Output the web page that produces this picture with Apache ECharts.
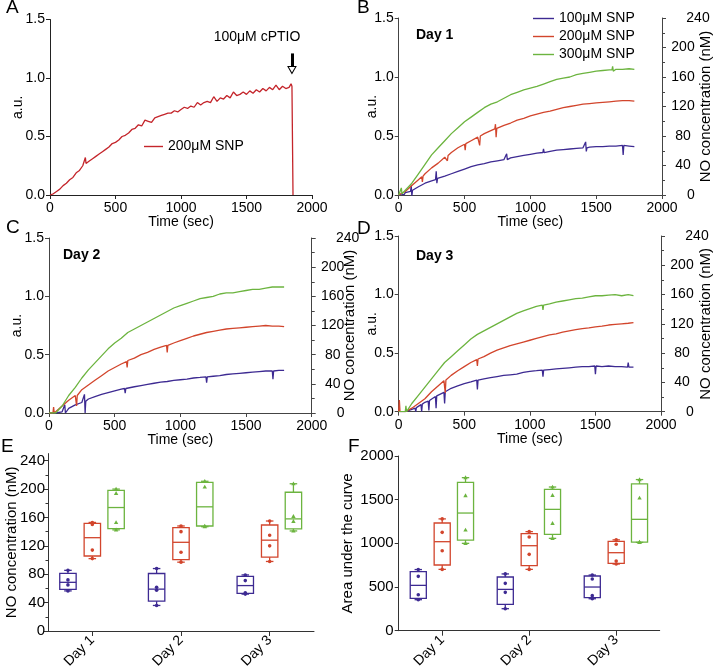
<!DOCTYPE html>
<html><head><meta charset="utf-8">
<script src="https://cdn.jsdelivr.net/npm/echarts@6/dist/echarts.min.js"></script>
<style>html,body{margin:0;padding:0;background:#fff}#c{width:714px;height:672px}</style>
</head><body><div id="c"></div>
<script>
// ---------------- data ----------------
const seriesNames = ['100μM SNP', '200μM SNP', '300μM SNP'];
const aLegendLabel = '200μM SNP';
const cptioLabel = '100μM cPTIO';
const cptioTime = 1847;
const dayLabels = ['Day 1', 'Day 2', 'Day 3'];
const eTicks = [0, 40, 80, 120, 160, 200, 240];
const eMinorTicks = [20, 60, 100, 140, 180, 220];

// Panel A (200 µM SNP, then cPTIO)
const aData = [[0,0],[25,0.01],[50,0.03],[75,0.05],[100,0.08],[125,0.10],[150,0.13],[175,0.15],[200,0.19],[225,0.21],[250,0.25],[265,0.26],[270,0.32],[275,0.27],[300,0.29],[325,0.31],[350,0.33],[375,0.35],[400,0.37],[425,0.39],[450,0.41],[475,0.44],[500,0.45],[525,0.47],[550,0.50],[575,0.51],[600,0.53],[625,0.56],[650,0.57],[675,0.60],[700,0.59],[725,0.64],[750,0.63],[775,0.62],[800,0.66],[825,0.67],[850,0.68],[875,0.69],[900,0.70],[925,0.70],[950,0.72],[975,0.71],[1000,0.73],[1025,0.75],[1050,0.74],[1075,0.76],[1100,0.75],[1125,0.79],[1150,0.77],[1175,0.79],[1200,0.80],[1225,0.79],[1250,0.84],[1275,0.80],[1300,0.83],[1325,0.82],[1350,0.85],[1375,0.83],[1400,0.88],[1425,0.85],[1450,0.86],[1475,0.88],[1500,0.86],[1525,0.89],[1550,0.87],[1575,0.90],[1600,0.88],[1625,0.91],[1650,0.89],[1675,0.92],[1700,0.90],[1725,0.94],[1750,0.90],[1775,0.93],[1800,0.91],[1825,0.92],[1840,0.95],[1847,0.93],[1855,0]];

// Panel B (Day 1)
const bBlue = [[0,0],[20,0.01],[40,0.0],[50,0.02],[90,0.03],[95,0.08],[100,-0.01],[105,0.04],[150,0.07],[200,0.10],[250,0.12],[280,0.13],[285,0.20],[290,0.10],[295,0.14],[300,0.14],[350,0.16],[400,0.18],[450,0.20],[500,0.22],[550,0.24],[600,0.255],[650,0.265],[700,0.28],[750,0.29],[800,0.30],[815,0.30],[820,0.35],[825,0.30],[850,0.315],[900,0.325],[950,0.335],[1000,0.345],[1050,0.355],[1095,0.36],[1100,0.39],[1105,0.36],[1150,0.37],[1200,0.38],[1250,0.385],[1300,0.39],[1350,0.395],[1400,0.40],[1415,0.40],[1420,0.45],[1425,0.37],[1430,0.40],[1450,0.405],[1500,0.41],[1550,0.41],[1600,0.415],[1650,0.415],[1700,0.42],[1705,0.34],[1710,0.42],[1750,0.415],[1790,0.41]];
const bRed = [[0,0],[50,0.03],[100,0.08],[150,0.13],[175,0.155],[180,0.11],[185,0.16],[200,0.18],[250,0.23],[300,0.27],[350,0.32],[365,0.33],[370,0.29],[375,0.335],[400,0.36],[450,0.40],[500,0.43],[505,0.38],[510,0.435],[550,0.46],[600,0.49],[610,0.49],[615,0.42],[620,0.50],[650,0.52],[700,0.545],[730,0.56],[735,0.60],[740,0.49],[745,0.565],[750,0.565],[800,0.59],[850,0.61],[900,0.635],[950,0.65],[1000,0.67],[1050,0.685],[1100,0.70],[1150,0.71],[1200,0.725],[1250,0.74],[1300,0.75],[1350,0.76],[1400,0.77],[1450,0.775],[1500,0.78],[1550,0.785],[1600,0.79],[1650,0.795],[1700,0.80],[1750,0.80],[1790,0.795]];
const bGreen = [[0,0],[15,0.0],[20,0.06],[25,0.01],[50,0.04],[100,0.10],[150,0.18],[200,0.26],[250,0.34],[300,0.40],[350,0.46],[400,0.52],[450,0.57],[500,0.62],[550,0.66],[600,0.70],[650,0.74],[700,0.77],[750,0.79],[800,0.82],[850,0.85],[900,0.87],[950,0.89],[1000,0.905],[1050,0.92],[1100,0.94],[1150,0.96],[1200,0.98],[1250,0.99],[1300,1.00],[1350,1.02],[1400,1.03],[1450,1.04],[1500,1.05],[1550,1.055],[1600,1.06],[1620,1.06],[1625,1.09],[1630,1.05],[1650,1.065],[1700,1.065],[1750,1.07],[1790,1.065]];

// Panel C (Day 2)
const cBlue = [[0,0],[50,0.0],[100,0.01],[115,0.02],[120,0.07],[125,0.0],[150,0.04],[200,0.07],[250,0.09],[265,0.10],[270,0.16],[275,0.0],[280,0.10],[300,0.12],[350,0.14],[400,0.16],[450,0.175],[500,0.19],[550,0.205],[575,0.21],[580,0.17],[585,0.21],[600,0.215],[650,0.225],[700,0.235],[750,0.245],[800,0.255],[850,0.265],[900,0.27],[950,0.28],[1000,0.285],[1050,0.29],[1100,0.30],[1150,0.305],[1195,0.31],[1200,0.26],[1205,0.31],[1250,0.315],[1300,0.32],[1350,0.33],[1400,0.335],[1450,0.34],[1500,0.345],[1550,0.35],[1600,0.355],[1650,0.36],[1700,0.36],[1705,0.29],[1710,0.36],[1750,0.365],[1790,0.365]];
const cRed = [[0,0],[30,0.0],[35,0.05],[40,0.0],[50,0.01],[100,0.06],[150,0.11],[200,0.15],[205,0.15],[210,0.06],[215,0.15],[250,0.20],[300,0.24],[350,0.28],[400,0.32],[450,0.36],[500,0.39],[550,0.42],[590,0.44],[595,0.39],[600,0.45],[650,0.47],[700,0.50],[750,0.52],[800,0.545],[850,0.565],[895,0.58],[900,0.52],[905,0.58],[950,0.60],[1000,0.62],[1050,0.64],[1100,0.66],[1150,0.675],[1200,0.69],[1250,0.70],[1300,0.71],[1350,0.72],[1400,0.725],[1450,0.73],[1500,0.735],[1550,0.74],[1600,0.745],[1650,0.75],[1700,0.745],[1750,0.745],[1790,0.74]];
const cGreen = [[0,0],[50,0.0],[100,0.06],[150,0.15],[200,0.22],[250,0.30],[300,0.37],[350,0.43],[400,0.49],[450,0.55],[500,0.60],[550,0.64],[600,0.69],[650,0.72],[700,0.75],[750,0.78],[800,0.81],[850,0.84],[900,0.87],[950,0.90],[1000,0.92],[1050,0.94],[1100,0.96],[1150,0.98],[1200,0.99],[1250,1.00],[1300,1.02],[1350,1.03],[1400,1.03],[1450,1.04],[1500,1.05],[1550,1.06],[1600,1.06],[1650,1.07],[1700,1.08],[1750,1.08],[1790,1.08]];

// Panel D (Day 3)
const dBlue = [[0,0],[50,0.0],[100,0.02],[125,0.03],[130,0.0],[135,0.035],[150,0.05],[170,0.06],[175,0.0],[180,0.065],[200,0.08],[225,0.09],[230,0.01],[235,0.095],[250,0.11],[280,0.13],[285,0.03],[290,0.135],[300,0.14],[345,0.165],[350,0.07],[355,0.17],[400,0.20],[450,0.22],[500,0.24],[550,0.255],[595,0.27],[600,0.19],[605,0.27],[650,0.28],[700,0.29],[750,0.30],[800,0.31],[850,0.315],[900,0.32],[950,0.335],[1000,0.345],[1050,0.35],[1095,0.355],[1100,0.30],[1105,0.355],[1150,0.36],[1200,0.365],[1250,0.37],[1300,0.375],[1350,0.38],[1400,0.385],[1450,0.385],[1495,0.39],[1500,0.32],[1505,0.39],[1550,0.385],[1600,0.39],[1650,0.385],[1700,0.385],[1745,0.38],[1750,0.42],[1755,0.38],[1790,0.38]];
const dRed = [[0,0],[5,0.1],[10,0.0],[50,0.0],[100,0.03],[150,0.07],[200,0.11],[250,0.17],[300,0.22],[345,0.265],[350,0.27],[355,0.16],[360,0.27],[400,0.31],[450,0.35],[500,0.385],[550,0.42],[595,0.445],[600,0.39],[605,0.45],[650,0.47],[700,0.50],[750,0.525],[800,0.545],[850,0.565],[900,0.58],[950,0.595],[1000,0.61],[1050,0.625],[1100,0.64],[1150,0.655],[1200,0.665],[1250,0.68],[1300,0.69],[1350,0.70],[1400,0.71],[1450,0.715],[1500,0.725],[1550,0.73],[1600,0.74],[1650,0.745],[1700,0.75],[1750,0.755],[1790,0.76]];
const dGreen = [[0,0],[50,0.0],[55,0.05],[60,0.0],[100,0.07],[150,0.14],[200,0.21],[250,0.28],[300,0.35],[350,0.42],[400,0.47],[450,0.52],[500,0.57],[550,0.62],[600,0.66],[650,0.69],[700,0.72],[750,0.75],[800,0.78],[850,0.81],[900,0.84],[950,0.86],[1000,0.88],[1050,0.90],[1095,0.91],[1100,0.87],[1105,0.91],[1150,0.92],[1200,0.935],[1250,0.945],[1300,0.955],[1350,0.965],[1400,0.97],[1450,0.98],[1500,0.99],[1550,0.99],[1600,0.995],[1650,1.00],[1700,0.99],[1750,1.00],[1790,0.99]];

// Panel E: NO concentration box plots [min, q1, median, q3, max] per day, and individual points
const eBlueBox = [[56.5,58.8,68.6,81.3,85.5],[36,42,59,81,88],[52,53,64,77,79]];
const eRedBox = [[102,105.7,131.5,151.8,153],[97,100.5,125,145.6,148],[98,104,128,149.4,155]];
const eGreenBox = [[142.5,144.2,174,198.3,200],[147,148,175,209.5,211],[141,144,158,195.5,207.5]];
const eBlueDots = [[85.5,72,65,56.5],[88,61.5,57.5,36],[79,71,54,52]];
const eRedDots = [[153,150,114,102],[148,140,111,97],[155,135,120,98]];
const eGreenDots = [[200,194,153,142.5],[211,203,148,147],[207.5,161.5,154.5,141]];

// Panel F: area under the curve
const fBlueBox = [[355,370,519,676,700],[252,302,473,615,650],[366,378,500,626,637]];
const fRedBox = [[702,752,1019,1233,1280],[702,744,973,1111,1134],[763,771,893,1023,1040]];
const fGreenBox = [[1000,1038,1347,1699,1752],[1057,1103,1389,1618,1645],[1011,1015,1275,1680,1730]];
const fBlueDots = [[700,622,412,355],[650,542,439,252],[637,592,401,366]];
const fRedDots = [[1280,1126,916,702],[1134,1073,874,702],[1040,989,798,763]];
const fGreenDots = [[1752,1546,1153,1000],[1645,1550,1229,1057],[1730,1519,1015,1011]];

// ---------------- styling ----------------
const FONT = 'Liberation Sans, Arial, Helvetica, sans-serif';
const BLUE = '#3d2a92', RED = '#d2452c', GREEN = '#6cb43f', ARED = '#c4252b';
const AX = '#444';

function timeX(gi, col) {
  return {gridIndex: gi, type: 'value', min: 0, max: 2000, interval: 500,
    name: 'Time (sec)', nameLocation: 'middle', nameGap: 20, nameMoveOverlap: false,
    nameTextStyle: {fontSize: 14, color: '#000', fontFamily: FONT},
    axisLine: {show: true, onZero: false, lineStyle: {color: col, width: 1}},
    axisTick: {show: true, length: 4, lineStyle: {color: col}},
    axisLabel: {fontSize: 14, color: '#000', margin: 6, fontFamily: FONT, formatter: v => String(v)},
    splitLine: {show: false}};
}
function auY(gi, gap, col) {
  return {gridIndex: gi, type: 'value', min: 0, max: 1.5, interval: 0.5,
    name: 'a.u.', nameLocation: 'middle', nameGap: gap, nameMoveOverlap: false,
    nameTextStyle: {fontSize: 14, color: '#000', fontFamily: FONT},
    axisLine: {show: true, onZero: false, lineStyle: {color: col, width: 1}},
    axisTick: {show: true, length: 4, lineStyle: {color: col}},
    axisLabel: {fontSize: 14, color: '#000', margin: 5, fontFamily: FONT, formatter: v => Number(v).toFixed(1)},
    splitLine: {show: false}};
}
const isEdge = v => { const n = Math.round(Number(v)); return n === 0 || n === 240; };
function noY(gi, gap, margin) {
  return {gridIndex: gi, type: 'value', position: 'right', min: 0, max: 240, interval: 40,
    name: 'NO concentration (nM)', nameLocation: 'middle', nameGap: gap, nameMoveOverlap: false,
    nameTextStyle: {fontSize: 15, color: '#000', fontFamily: FONT},
    axisLine: {show: true, onZero: false, lineStyle: {color: AX, width: 1}},
    axisTick: {show: true, length: 4, lineStyle: {color: AX}},
    minorTick: {show: true, splitNumber: 2, length: 3, lineStyle: {color: AX}},
    axisLabel: {fontSize: 14, color: '#000', margin: margin, align: 'center', fontFamily: FONT,
      formatter: v => isEdge(v) ? '' : String(Math.round(Number(v)))},
    splitLine: {show: false}};
}
// label-only right axes: the "0" and "240" labels sit further out in the reference
function noEdge(gi, value, shift) {
  return {gridIndex: gi, type: 'value', position: 'right', offset: shift, min: 0, max: 240, interval: 40,
    axisLine: {show: true, onZero: false, lineStyle: {color: 'rgba(0,0,0,0)'}},
    axisTick: {show: false}, splitLine: {show: false},
    axisLabel: {fontSize: 14, color: '#000', margin: 21, align: 'center', fontFamily: FONT,
      formatter: v => Math.round(Number(v)) === value ? String(value) : ''}};
}
function catX(gi) {
  return {gridIndex: gi, type: 'category', data: dayLabels,
    axisLine: {show: true, lineStyle: {color: '#333', width: 1}},
    axisTick: {show: true, alignWithLabel: true, length: 5, lineStyle: {color: '#333'}},
    axisLabel: {rotate: 45, fontSize: 14, color: '#000', margin: 7, fontFamily: FONT},
    splitLine: {show: false}};
}
function line(name, data, xi, yi, col) {
  return {type: 'line', name, data, xAxisIndex: xi, yAxisIndex: yi, symbol: 'none',
    color: col, lineStyle: {color: col, width: 1.3}, silent: true};
}
function boxRender(frac, col) {
  return function (params, api) {
    const cat = api.value(0);
    const band = api.size([1, 0])[0];
    const cx = api.coord([cat, 0])[0] + frac * band;
    const y = i => api.coord([cat, api.value(i)])[1];
    const yMin = y(1), yQ1 = y(2), yMed = y(3), yQ3 = y(4), yMax = y(5);
    const bw = band * 0.185, cw = band * 0.085;
    const st = {stroke: col, lineWidth: 1.3, fill: 'none'};
    return {type: 'group', children: [
      {type: 'rect', shape: {x: cx - bw / 2, y: yQ3, width: bw, height: yQ1 - yQ3}, style: st},
      {type: 'line', shape: {x1: cx - bw / 2, y1: yMed, x2: cx + bw / 2, y2: yMed}, style: st},
      {type: 'line', shape: {x1: cx, y1: yQ3, x2: cx, y2: yMax}, style: st},
      {type: 'line', shape: {x1: cx, y1: yQ1, x2: cx, y2: yMin}, style: st},
      {type: 'line', shape: {x1: cx - cw / 2, y1: yMax, x2: cx + cw / 2, y2: yMax}, style: st},
      {type: 'line', shape: {x1: cx - cw / 2, y1: yMin, x2: cx + cw / 2, y2: yMin}, style: st}
    ]};
  };
}
function dotRender(frac, col, tri) {
  return function (params, api) {
    const band = api.size([1, 0])[0];
    const p = api.coord([api.value(0), api.value(1)]);
    const x = p[0] + frac * band, yy = p[1];
    if (tri) return {type: 'polygon', shape: {points: [[x, yy - 2.3], [x + 2.2, yy + 1.6], [x - 2.2, yy + 1.6]]}, style: {fill: col}};
    return {type: 'circle', shape: {cx: x, cy: yy, r: 1.8}, style: {fill: col}};
  };
}
function boxSeries(boxes, xi, yi, frac, col) {
  return {type: 'custom', xAxisIndex: xi, yAxisIndex: yi, silent: true,
    data: boxes.map((b, i) => [i].concat(b)), encode: {x: 0, y: [1, 2, 3, 4, 5]},
    renderItem: boxRender(frac, col)};
}
function dotSeries(dots, xi, yi, frac, col, tri) {
  const data = [];
  dots.forEach((arr, i) => arr.forEach(v => data.push([i, v])));
  return {type: 'custom', xAxisIndex: xi, yAxisIndex: yi, silent: true, z: 3,
    data, encode: {x: 0, y: 1}, renderItem: dotRender(frac, col, tri)};
}
const OFF = [-0.275, 0, 0.268];

function txt(t, left, top, size, bold) {
  return {type: 'text', left, top, silent: true,
    style: {text: t, fontSize: size, fontFamily: FONT, fontWeight: bold ? 'bold' : 'normal', fill: '#000'}};
}

const option = {
  animation: false,
  backgroundColor: '#fff',
  textStyle: {fontFamily: FONT},
  grid: [
    {left: 50, top: 19.5, width: 262, height: 175.5},
    {left: 398.7, top: 18, width: 265, height: 177},
    {left: 49, top: 238, width: 262.7, height: 175},
    {left: 398.7, top: 236, width: 264.3, height: 175.7},
    {left: 48, top: 453.6, width: 266, height: 177.4},
    {left: 398.7, top: 456, width: 261, height: 174.7}
  ],
  xAxis: [timeX(0, '#222'), timeX(1, AX), timeX(2, AX), timeX(3, AX), catX(4), catX(5)],
  yAxis: [
    auY(0, 25, '#222'),
    auY(1, 20, AX), noY(1, 36, 21),
    auY(2, 25, AX), noY(2, 31, 21),
    auY(3, 20, AX), noY(3, 37, 21),
    {gridIndex: 4, type: 'value', min: 0, max: 250, interval: 40,
      name: 'NO concentration (nM)', nameLocation: 'middle', nameGap: 29, nameMoveOverlap: false,
      nameTextStyle: {fontSize: 15, color: '#000', fontFamily: FONT},
      axisLine: {show: true, onZero: false, lineStyle: {color: '#333'}},
      axisTick: {show: true, length: 4, customValues: eTicks, lineStyle: {color: '#333'}},
      axisLabel: {fontSize: 15, color: '#000', margin: 3, customValues: eTicks, fontFamily: FONT},
      splitLine: {show: false}},
    {gridIndex: 4, type: 'value', min: 0, max: 250, position: 'left',
      axisLine: {show: false}, axisLabel: {show: false}, splitLine: {show: false},
      axisTick: {show: true, length: 2.5, customValues: eMinorTicks, lineStyle: {color: '#333'}}},
    {gridIndex: 5, type: 'value', min: 0, max: 2000, interval: 500,
      name: 'Area under the curve', nameLocation: 'middle', nameGap: 43, nameMoveOverlap: false,
      nameTextStyle: {fontSize: 15, color: '#000', fontFamily: FONT},
      axisLine: {show: true, onZero: false, lineStyle: {color: '#333'}},
      axisTick: {show: true, length: 4, lineStyle: {color: '#333'}},
      axisLabel: {fontSize: 15, color: '#000', margin: 5, fontFamily: FONT, formatter: v => String(v)},
      splitLine: {show: false}},
    noEdge(1, 0, 8), noEdge(1, 240, 15),
    noEdge(2, 0, 8), noEdge(2, 240, 15),
    noEdge(3, 0, 8), noEdge(3, 240, 15)
  ],
  legend: [
    {data: seriesNames, orient: 'vertical', left: 533, top: 11.5, padding: 0, icon: 'rect',
      itemWidth: 21, itemHeight: 1.4, itemGap: 4,
      selectedMode: false, textStyle: {fontSize: 14, color: '#000', fontFamily: FONT}},
    {data: ['A200'], orient: 'vertical', left: 144, top: 139.5, padding: 0, icon: 'rect',
      itemWidth: 19, itemHeight: 1.4,
      selectedMode: false, formatter: () => aLegendLabel, textStyle: {fontSize: 14, color: '#000', fontFamily: FONT}}
  ],
  graphic: [
    txt('A', 6, -2, 19), txt('B', 357, -2, 19), txt('C', 6, 218, 19), txt('D', 357, 219, 19),
    txt('E', 1, 437, 19), txt('F', 348, 437, 19),
    txt('Day 1', 416, 28, 14, true), txt('Day 2', 63, 248, 14, true), txt('Day 3', 416, 249, 14, true)
  ],
  series: [
    Object.assign(line('A200', aData, 0, 0, ARED), {
      markLine: {silent: true, symbol: ['none', 'none'], label: {show: false},
        lineStyle: {color: '#000', width: 3, type: 'solid'},
        data: [[{coord: [cptioTime, 1.21]}, {coord: [cptioTime, 1.10]}]]},
      markPoint: {silent: true, data: [
        {coord: [cptioTime, 1.068], symbol: 'triangle', symbolSize: [8, 7], symbolRotate: 180,
          itemStyle: {color: '#fff', borderColor: '#000', borderWidth: 1}, label: {show: false}},
        {coord: [1580, 1.35], symbol: 'circle', symbolSize: 0,
          label: {show: true, position: 'inside', formatter: cptioLabel, fontSize: 14, color: '#000', fontFamily: FONT}}
      ]}
    }),
    line(seriesNames[0], bBlue, 1, 1, BLUE), line(seriesNames[1], bRed, 1, 1, RED), line(seriesNames[2], bGreen, 1, 1, GREEN),
    line(seriesNames[0], cBlue, 2, 3, BLUE), line(seriesNames[1], cRed, 2, 3, RED), line(seriesNames[2], cGreen, 2, 3, GREEN),
    line(seriesNames[0], dBlue, 3, 5, BLUE), line(seriesNames[1], dRed, 3, 5, RED), line(seriesNames[2], dGreen, 3, 5, GREEN),
    boxSeries(eBlueBox, 4, 7, OFF[0], BLUE), boxSeries(eRedBox, 4, 7, OFF[1], RED), boxSeries(eGreenBox, 4, 7, OFF[2], GREEN),
    dotSeries(eBlueDots, 4, 7, OFF[0], BLUE, false), dotSeries(eRedDots, 4, 7, OFF[1], RED, false), dotSeries(eGreenDots, 4, 7, OFF[2], GREEN, true),
    boxSeries(fBlueBox, 5, 9, OFF[0], BLUE), boxSeries(fRedBox, 5, 9, OFF[1], RED), boxSeries(fGreenBox, 5, 9, OFF[2], GREEN),
    dotSeries(fBlueDots, 5, 9, OFF[0], BLUE, false), dotSeries(fRedDots, 5, 9, OFF[1], RED, false), dotSeries(fGreenDots, 5, 9, OFF[2], GREEN, true)
  ]
};
const chart = echarts.init(document.getElementById('c'), null, {renderer: 'canvas'});
chart.setOption(option);
</script></body></html>
